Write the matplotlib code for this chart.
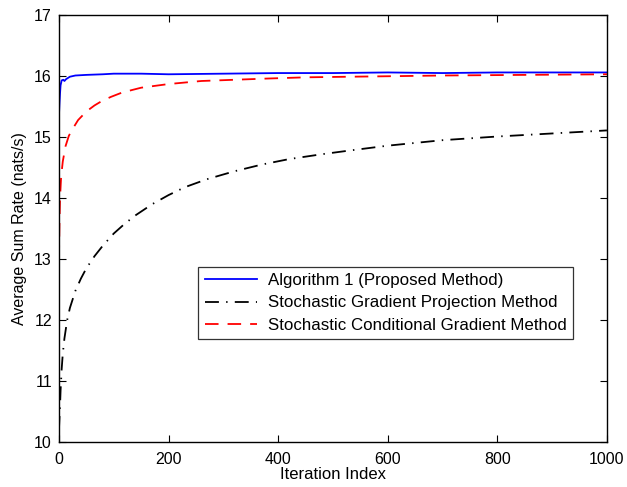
import matplotlib
matplotlib.use("Agg")
import matplotlib.pyplot as plt

plt.rcParams['font.family'] = ['Liberation Sans', 'DejaVu Sans']

# Algorithm 1 (Proposed Method)
alg1_x = [0, 1, 2, 3, 5, 8, 10, 13, 20, 30, 50, 80, 100, 150, 200, 300, 400, 500, 600, 700, 800, 900, 1000]
alg1_y = [15.35, 15.55, 15.72, 15.85, 15.93, 15.94, 15.92, 15.95, 15.99, 16.01, 16.02, 16.03, 16.04, 16.04, 16.03, 16.04, 16.05, 16.05, 16.06, 16.05, 16.06, 16.06, 16.06]

# Stochastic Gradient Projection Method
sgp_x = [0, 1, 2, 3, 5, 7, 10, 15, 20, 30, 40, 50, 65, 80, 100, 120, 140, 170, 200, 230, 270,
         320, 370, 420, 480, 530, 600, 700, 800, 900, 1000]
sgp_y = [10.2, 10.4, 10.6, 10.85, 11.2, 11.45, 11.7, 12.0, 12.2, 12.48, 12.68, 12.85, 13.05, 13.22,
         13.42, 13.58, 13.72, 13.9, 14.05, 14.18, 14.31, 14.44, 14.55, 14.64, 14.72, 14.78, 14.86,
         14.95, 15.01, 15.06, 15.11]

# Stochastic Conditional Gradient Method
scg_x = [0, 1, 2, 4, 7, 12, 18, 24, 35, 50, 65, 78, 95, 115, 150, 200, 260, 320, 380, 450, 530, 620, 700, 850, 1000]
scg_y = [13.0, 13.6, 14.0, 14.35, 14.6, 14.85, 15.02, 15.12, 15.28, 15.42, 15.52, 15.59, 15.66, 15.73, 15.81,
         15.87, 15.92, 15.94, 15.96, 15.98, 15.99, 16.0, 16.01, 16.02, 16.03]

fig = plt.figure(figsize=(6.27, 4.87), dpi=100)
ax = fig.add_axes([0.094, 0.092, 0.874, 0.877])

ax.plot(alg1_x, alg1_y, color='#0000ff', lw=1.3, label='Algorithm 1 (Proposed Method)')
ax.plot(sgp_x, sgp_y, color='black', lw=1.3, linestyle=(0, (7.7, 4, 0.8, 4)),
        label='Stochastic Gradient Projection Method')
ax.plot(scg_x, scg_y, color='#ff0000', lw=1.3, linestyle=(0, (7.5, 5)),
        label='Stochastic Conditional Gradient Method')

ax.set_xlim(0, 1000)
ax.set_ylim(10, 17)
ax.set_xticks(range(0, 1001, 200))
ax.set_yticks(range(10, 18))
ax.tick_params(direction='in', top=True, right=True, length=5, labelsize=11.5, width=0.8)
ax.tick_params(axis='x', pad=7)
ax.tick_params(axis='y', pad=5)
for s in ax.spines.values():
    s.set_linewidth(1.0)
ax.set_xlabel('Iteration Index', fontsize=12, labelpad=0)
ax.set_ylabel('Average Sum Rate (nats/s)', fontsize=11.5, labelpad=5)

leg = ax.legend(loc='center', bbox_to_anchor=(0.596, 0.326), fontsize=12.2,
                frameon=True, fancybox=False, handlelength=3.1, borderpad=0.4,
                labelspacing=0.42, handletextpad=0.6, borderaxespad=0)
leg.get_frame().set_edgecolor('black')
leg.get_frame().set_linewidth(0.9)

fig.savefig('out.png', dpi=100)
